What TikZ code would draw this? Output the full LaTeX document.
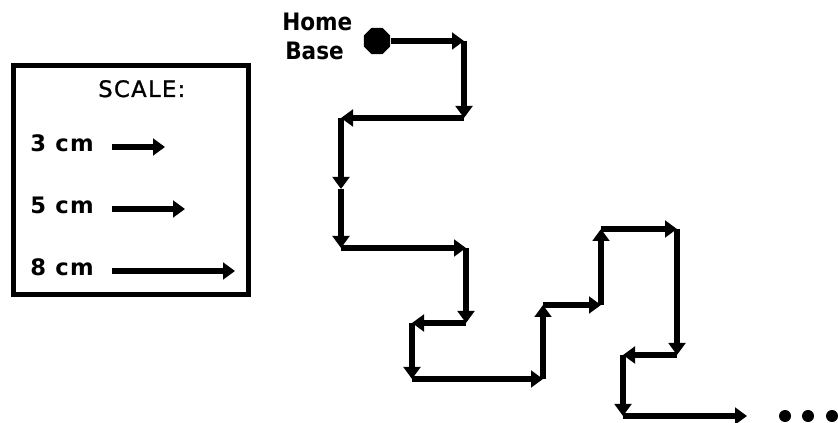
\documentclass[tikz,border=0pt]{standalone}
\usepackage{fontspec}
\setmainfont{DejaVu Sans}
\newfontfamily\spacedfont[LetterSpace=6]{DejaVu Sans}
\newfontfamily\titlefont[LetterSpace=6,FakeBold=1.2]{DejaVu Sans}
\newfontfamily\narrowfont[FakeStretch=0.9]{DejaVu Sans}
\usetikzlibrary{arrows.meta,shapes.geometric}

\begin{document}
\begin{tikzpicture}
[x=0.75pt,y=-0.75pt,
  arrowDecorate/.style={-{Triangle[length=9pt,width=12.5pt]},line width=4pt},
  homeDecorate/.style={shape=regular polygon,regular polygon sides=8,fill,inner sep=0pt,minimum size=21.5pt},
  dotDecorate/.style={shape=circle,fill,inner sep=0pt,minimum size=9pt},
  boxDecorate/.style={draw,line width=3.75pt,minimum width=176.25pt,minimum height=171.75pt},
  labelDecorate/.style={inner sep=0pt,font=\spacedfont\bfseries\fontsize{17}{17}\selectfont}]
\useasboundingbox (0,0) rectangle (838,423);
%% legend
\node (scaleBox) at (130.5,180.5) [boxDecorate] {};
\node (scaleTitle) at (98,97) [anchor=base west,inner sep=0pt,font=\titlefont\fontsize{17}{17}\selectfont] {SCALE:};
\foreach \nodename/\txt/\y/\xend in {
  three/3 cm/152/165,
  five/5 cm/214/185,
  eight/8 cm/276/235}
{
  \node (\nodename) at (30,\y) [labelDecorate,anchor=base west] {\txt};
  \coordinate (\nodename a) at (112,\y-5);
  \coordinate (\nodename b) at (\xend,\y-5);
  \draw[arrowDecorate] (\nodename a) -- (\nodename b);
}
%% home base
\node (homeTxt) at (282,31) [anchor=base west,inner sep=0pt,font=\narrowfont\bfseries\fontsize{18}{18}\selectfont] {Home};
\node (baseTxt) at (285,60) [anchor=base west,inner sep=0pt,font=\narrowfont\bfseries\fontsize{18}{18}\selectfont] {Base};
\node (home) at (377,41) [homeDecorate] {};
%% corners of the walk
\foreach \nodename/\x/\y in {
  p1/464/41, p2/464/118, p3/341/118, p4/341/189, p5/341/248,
  p6/466/248, p7/466/323, p8/412/323, p9/412/379, p10/543/379,
  p11/543/305, p12/601/305, p13/601/229, p14/677/229, p15/677/355,
  p16/623/355, p17/623/416, p18/747/416}
{
  \coordinate (\nodename) at (\x,\y);
}
%% steps
\path
\foreach \startnode/\endnode in {
  home/p1, p1/p2, p2/p3, p3/p4, p4/p5, p5/p6, p6/p7, p7/p8, p8/p9,
  p9/p10, p10/p11, p11/p12, p12/p13, p13/p14, p14/p15, p15/p16,
  p16/p17, p17/p18}
{
  (\startnode) edge[arrowDecorate] (\endnode)
};
%% more to come
\foreach \nodename/\x in {d1/785, d2/808, d3/832}
{
  \node (\nodename) at (\x,416) [dotDecorate] {};
}
\end{tikzpicture}
\end{document}
